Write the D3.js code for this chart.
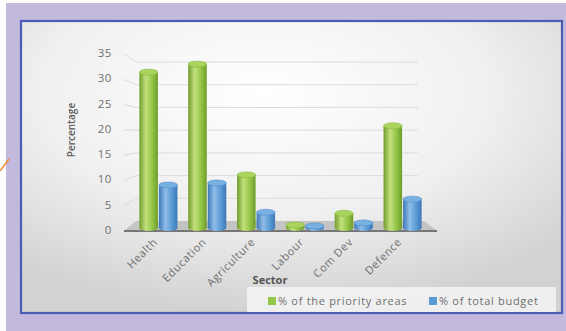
<!DOCTYPE html>
<html>
<head>
<meta charset="utf-8">
<script src="https://cdn.jsdelivr.net/npm/d3@7"></script>
<style>
  body { margin: 0; background: #ffffff; }
  svg { display: block; }
  text { font-family: "Open Sans", "DejaVu Sans", sans-serif; }
</style>
</head>
<body>
<div id="chart"></div>
<script>
// data
var sectors = ["Health", "Education", "Agriculture", "Labour", "Com Dev", "Defence"];
var seriesNames = ["% of the priority areas", "% of total budget"];
var priorityShare = [31.2, 32.8, 10.9, 1.0, 3.3, 20.6];
var budgetShare = [8.9, 9.3, 3.5, 0.8, 1.4, 6.1];
var yTicks = [0, 5, 10, 15, 20, 25, 30, 35];

var width = 566, height = 331;

var svg = d3.select("#chart").append("svg")
  .attr("width", width)
  .attr("height", height);

var defs = svg.append("defs");

// panel background: light centre, grey edges
var bg = defs.append("radialGradient").attr("id", "panelGrad")
  .attr("cx", "45%").attr("cy", "25%").attr("r", "75%");
bg.append("stop").attr("offset", "0%").attr("stop-color", "#ffffff");
bg.append("stop").attr("offset", "55%").attr("stop-color", "#f0f0f0");
bg.append("stop").attr("offset", "100%").attr("stop-color", "#d2d2d2");

// cylinder shading
function cylGrad(id, dark, mid, light) {
  var g = defs.append("linearGradient").attr("id", id)
    .attr("x1", "0%").attr("x2", "100%").attr("y1", "0%").attr("y2", "0%");
  g.append("stop").attr("offset", "0%").attr("stop-color", dark);
  g.append("stop").attr("offset", "35%").attr("stop-color", light);
  g.append("stop").attr("offset", "70%").attr("stop-color", mid);
  g.append("stop").attr("offset", "100%").attr("stop-color", dark);
}
cylGrad("greenGrad", "#6f9c2c", "#93c444", "#c3e07e");
cylGrad("blueGrad", "#3d78b8", "#5b9bd5", "#8fbde8");
var topColors = ["#a9d35c", "#79b0e2"];
var bodyGrads = ["url(#greenGrad)", "url(#blueGrad)"];
var legendColors = ["#92c847", "#5b9bd5"];

// page frame
svg.append("rect").attr("x", 6).attr("y", 3).attr("width", width - 6).attr("height", height - 3)
  .attr("fill", "#c3b9dc");
svg.append("line").attr("x1", 9).attr("y1", 159).attr("x2", 0).attr("y2", 171)
  .attr("stroke", "#f08a3a").attr("stroke-width", 1.5);

svg.append("rect").attr("x", 21).attr("y", 21).attr("width", 541).attr("height", 292)
  .attr("fill", "url(#panelGrad)")
  .attr("stroke", "#4b5cb4").attr("stroke-width", 2.2);

// scales
var y = d3.scaleLinear().domain([0, 35]).range([230, 53]);
var yBack = d3.scaleLinear().domain([0, 35]).range([221, 62]);

var x0 = d3.scaleBand().domain(sectors).range([134, 427])
  .paddingInner(0.2).paddingOuter(0.1);
var x1 = d3.scaleBand().domain(seriesNames).range([0, x0.bandwidth()]);

// back wall gridlines
svg.append("g").selectAll("path")
  .data(yTicks.slice(1))
  .enter().append("path")
  .attr("d", function(d) {
    return "M124," + (y(d) + 1) + "L136," + yBack(d) + "L418," + yBack(d);
  })
  .attr("fill", "none")
  .attr("stroke", "#dcdcdc")
  .attr("stroke-width", 1);

// floor
svg.append("path")
  .attr("d", "M124,231L437,231L424," + yBack(0) + "L136," + yBack(0) + "Z")
  .attr("fill", "#c4c4c4");
svg.append("line").attr("x1", 124).attr("x2", 437).attr("y1", 231).attr("y2", 231)
  .attr("stroke", "#767676").attr("stroke-width", 2);

// y tick labels
svg.append("g").selectAll("text")
  .data(yTicks)
  .enter().append("text")
  .attr("x", 112)
  .attr("y", function(d) { return y(d); })
  .attr("dy", "0.35em")
  .attr("text-anchor", "end")
  .attr("font-size", 11.5)
  .attr("letter-spacing", 0.6)
  .attr("fill", "#6f6f6f")
  .text(function(d) { return d; });

// bars as cylinders
var rows = sectors.map(function(s, i) {
  return { sector: s, values: [priorityShare[i], budgetShare[i]] };
});

var ry = 3;
var groups = svg.append("g").selectAll("g")
  .data(rows)
  .enter().append("g")
  .attr("transform", function(d) { return "translate(" + x0(d.sector) + ",0)"; });

var bars = groups.selectAll("g")
  .data(function(d) {
    return d.values.map(function(v, k) { return { series: seriesNames[k], k: k, value: v }; });
  })
  .enter().append("g");

var base = y(0) - 2;
bars.append("ellipse")
  .attr("cx", function(d) { return x1(d.series) + x1.bandwidth() / 2; })
  .attr("cy", base)
  .attr("rx", x1.bandwidth() / 2 - 0.5)
  .attr("ry", ry)
  .attr("fill", function(d) { return bodyGrads[d.k]; });
bars.append("rect")
  .attr("x", function(d) { return x1(d.series) + 0.5; })
  .attr("y", function(d) { return y(d.value); })
  .attr("width", x1.bandwidth() - 1)
  .attr("height", function(d) { return Math.max(0, base - y(d.value)); })
  .attr("fill", function(d) { return bodyGrads[d.k]; });
bars.append("ellipse")
  .attr("cx", function(d) { return x1(d.series) + x1.bandwidth() / 2; })
  .attr("cy", function(d) { return y(d.value); })
  .attr("rx", x1.bandwidth() / 2 - 0.5)
  .attr("ry", ry)
  .attr("fill", function(d) { return topColors[d.k]; })
  .attr("stroke", function(d) { return d.k === 0 ? "#86b83c" : "#4f8fcf"; })
  .attr("stroke-width", 0.6);

// category labels
svg.append("g").selectAll("text")
  .data(sectors)
  .enter().append("text")
  .attr("transform", function(d) {
    return "translate(" + (x0(d) + x0.bandwidth() / 2 - 3) + ",240) rotate(-45)";
  })
  .attr("text-anchor", "end")
  .attr("dy", "0.35em")
  .attr("font-size", 11)
  .attr("letter-spacing", 0.6)
  .attr("fill", "#6f6f6f")
  .text(function(d) { return d; });

// axis titles
svg.append("text")
  .attr("transform", "translate(75,130) rotate(-90)")
  .attr("text-anchor", "middle")
  .attr("font-size", 10)
  .attr("font-weight", "600")
  .attr("fill", "#5a5a5a")
  .text("Percentage");

svg.append("text")
  .attr("x", 270).attr("y", 284)
  .attr("text-anchor", "middle")
  .attr("font-size", 11)
  .attr("font-weight", "bold")
  .attr("fill", "#555555")
  .text("Sector");

// legend
svg.append("rect").attr("x", 247).attr("y", 287).attr("width", 309).attr("height", 25)
  .attr("fill", "#f4f4f4").attr("opacity", 0.85);

var legendX = [268, 429];
var legend = svg.append("g").selectAll("g")
  .data(seriesNames)
  .enter().append("g")
  .attr("transform", function(d, i) { return "translate(" + legendX[i] + ",297)"; });
legend.append("rect")
  .attr("width", 8).attr("height", 8)
  .attr("fill", function(d, i) { return legendColors[i]; });
legend.append("text")
  .attr("x", 10).attr("y", 4)
  .attr("dy", "0.35em")
  .attr("font-size", 11)
  .attr("letter-spacing", 0.7)
  .attr("fill", "#6f6f6f")
  .text(function(d) { return d; });
</script>
</body>
</html>
